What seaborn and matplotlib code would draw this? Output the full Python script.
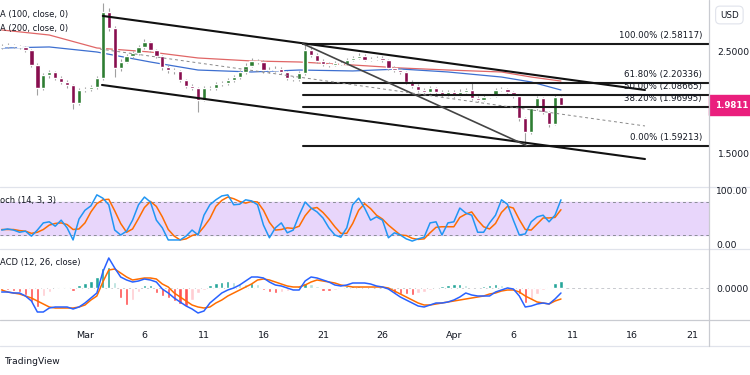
import matplotlib
matplotlib.use("Agg")
import matplotlib.pyplot as plt
from matplotlib.lines import Line2D
from matplotlib.patches import Rectangle
import seaborn as sns
import numpy as np

# candle times, days from Mar 1 (12h candles)
days = np.arange(-7, 40.01, 0.5)
first_open = 2.55

closes = [2.558, 2.568, 2.558, 2.549, 2.519, 2.374, 2.150, 2.277, 2.306, 2.248,
          2.209, 2.180, 2.005, 2.131, 2.141, 2.160, 2.248, 2.888, 2.733, 2.345,
          2.403, 2.461, 2.490, 2.549, 2.597, 2.519, 2.461, 2.354, 2.325, 2.316,
          2.228, 2.170, 2.150, 2.034, 2.150, 2.150, 2.189, 2.199, 2.228, 2.257,
          2.306, 2.364, 2.413, 2.403, 2.325, 2.325, 2.335, 2.306, 2.248, 2.238,
          2.296, 2.519, 2.471, 2.413, 2.383, 2.374, 2.393, 2.383, 2.422, 2.442,
          2.461, 2.422, 2.432, 2.442, 2.422, 2.345, 2.325, 2.306, 2.209, 2.170,
          2.131, 2.112, 2.150, 2.112, 2.083, 2.112, 2.073, 2.112, 2.131, 2.053,
          2.034, 2.063, 2.073, 2.131, 2.141, 2.112, 2.073, 1.859, 1.723, 1.956,
          2.053, 1.917, 1.801, 2.060, 1.981]
highs = [2.58, 2.59, 2.58, 2.57, 2.56, 2.53, 2.39, 2.30, 2.33, 2.32,
         2.27, 2.23, 2.19, 2.15, 2.16, 2.18, 2.27, 2.98, 2.93, 2.75,
         2.43, 2.48, 2.51, 2.57, 2.63, 2.61, 2.53, 2.47, 2.37, 2.34,
         2.33, 2.24, 2.19, 2.16, 2.17, 2.17, 2.21, 2.22, 2.25, 2.28,
         2.33, 2.39, 2.44, 2.43, 2.42, 2.35, 2.36, 2.35, 2.32, 2.27,
         2.32, 2.581, 2.56, 2.49, 2.43, 2.40, 2.41, 2.41, 2.44, 2.46,
         2.49, 2.48, 2.45, 2.46, 2.46, 2.43, 2.36, 2.34, 2.32, 2.23,
         2.19, 2.15, 2.17, 2.16, 2.13, 2.13, 2.13, 2.14, 2.15, 2.21,
         2.07, 2.08, 2.09, 2.15, 2.16, 2.15, 2.12, 2.08, 1.87, 1.98,
         2.07, 2.06, 1.93, 2.09, 2.07]
lows = [2.53, 2.54, 2.54, 2.53, 2.50, 2.35, 2.08, 2.13, 2.25, 2.23,
        2.19, 2.15, 1.95, 1.99, 2.11, 2.12, 2.14, 2.23, 2.70, 2.26,
        2.32, 2.39, 2.44, 2.47, 2.53, 2.50, 2.44, 2.33, 2.30, 2.29,
        2.21, 2.15, 2.13, 1.92, 2.02, 2.13, 2.13, 2.17, 2.18, 2.21,
        2.24, 2.29, 2.35, 2.38, 2.30, 2.30, 2.31, 2.29, 2.23, 2.22,
        2.22, 2.28, 2.45, 2.39, 2.36, 2.35, 2.36, 2.37, 2.37, 2.41,
        2.43, 2.41, 2.41, 2.42, 2.40, 2.33, 2.31, 2.29, 2.19, 2.15,
        2.11, 2.09, 2.10, 2.09, 2.06, 2.07, 2.05, 2.06, 2.10, 2.03,
        2.01, 2.02, 2.05, 2.06, 2.12, 2.09, 2.05, 1.83, 1.592, 1.70,
        1.94, 1.90, 1.77, 1.79, 1.97]

# moving averages, sampled along the chart
ma_days = [-7, -3, 1, 5.5, 9.5, 14, 18, 22.5, 26.5, 30.5, 35, 37.5, 40]
ma100 = [2.539, 2.549, 2.500, 2.403, 2.325, 2.306, 2.325, 2.316, 2.335, 2.306, 2.257, 2.209, 2.131]
ma200 = [2.714, 2.665, 2.539, 2.500, 2.442, 2.413, 2.403, 2.374, 2.345, 2.325, 2.306, 2.257, 2.218]

stoch_k = [29, 31, 29, 25, 27, 18, 29, 42, 44, 36,
           47, 33, 11, 49, 65, 73, 93, 87, 75, 29,
           20, 27, 47, 75, 89, 80, 47, 33, 11, 11,
           11, 18, 29, 20, 56, 75, 84, 91, 93, 75,
           76, 84, 82, 75, 38, 15, 33, 42, 24, 29,
           56, 80, 69, 62, 51, 33, 20, 16, 33, 75,
           87, 69, 47, 53, 47, 15, 24, 20, 13, 9,
           13, 16, 42, 44, 20, 42, 44, 69, 60, 56,
           25, 25, 42, 56, 84, 76, 47, 20, 22, 44,
           53, 56, 44, 56, 84]
stoch_d = [30, 30, 30, 28, 27, 23, 25, 30, 38, 41,
           42, 39, 30, 31, 42, 62, 77, 84, 85, 64,
           41, 25, 31, 50, 70, 81, 72, 53, 30, 18,
           11, 13, 19, 22, 35, 50, 72, 83, 89, 86,
           81, 78, 81, 80, 65, 43, 29, 30, 33, 32,
           36, 55, 68, 70, 61, 49, 35, 23, 23, 41,
           65, 77, 68, 56, 49, 38, 29, 20, 19, 14,
           12, 13, 24, 34, 35, 35, 35, 52, 58, 62,
           47, 35, 31, 41, 61, 72, 69, 48, 30, 29,
           40, 51, 51, 52, 66]

macd_line = [-0.016, -0.016, -0.020, -0.020, -0.032, -0.052, -0.096, -0.096, -0.080, -0.076,
             -0.076, -0.076, -0.084, -0.076, -0.060, -0.040, -0.020, 0.064, 0.120, 0.080,
             0.044, 0.032, 0.024, 0.028, 0.036, 0.032, 0.024, -0.004, -0.020, -0.040,
             -0.056, -0.072, -0.084, -0.100, -0.092, -0.060, -0.040, -0.020, -0.008, 0.000,
             0.012, 0.028, 0.044, 0.044, 0.040, 0.024, 0.012, 0.008, 0.000, -0.008,
             -0.008, 0.028, 0.044, 0.040, 0.032, 0.024, 0.012, 0.008, 0.012, 0.020,
             0.020, 0.020, 0.016, 0.008, 0.004, -0.004, -0.020, -0.036, -0.048, -0.060,
             -0.072, -0.076, -0.068, -0.060, -0.060, -0.056, -0.048, -0.036, -0.020, -0.028,
             -0.032, -0.032, -0.032, -0.016, -0.008, 0.000, -0.004, -0.032, -0.076, -0.072,
             -0.064, -0.060, -0.064, -0.044, -0.020]
macd_signal = [-0.008, -0.016, -0.020, -0.024, -0.032, -0.040, -0.052, -0.064, -0.076, -0.080,
               -0.080, -0.080, -0.080, -0.076, -0.068, -0.048, -0.032, 0.024, 0.072, 0.076,
               0.060, 0.044, 0.032, 0.036, 0.040, 0.040, 0.036, 0.016, 0.004, -0.020,
               -0.036, -0.052, -0.068, -0.076, -0.080, -0.076, -0.060, -0.048, -0.032, -0.020,
               -0.008, 0.004, 0.016, 0.032, 0.036, 0.032, 0.024, 0.016, 0.008, 0.004,
               0.004, 0.012, 0.024, 0.032, 0.028, 0.024, 0.020, 0.012, 0.008, 0.004,
               0.004, 0.004, 0.004, 0.004, 0.004, 0.000, -0.012, -0.024, -0.036, -0.048,
               -0.060, -0.068, -0.068, -0.064, -0.060, -0.056, -0.052, -0.048, -0.044, -0.040,
               -0.036, -0.032, -0.024, -0.020, -0.012, -0.008, -0.008, -0.016, -0.032, -0.044,
               -0.056, -0.060, -0.064, -0.052, -0.044]
macd_hist = [-0.008, -0.008, -0.012, -0.016, -0.028, -0.056, -0.076, -0.032, -0.016, 0.004,
             0.004, 0.004, -0.012, 0.012, 0.020, 0.028, 0.044, 0.080, 0.084, 0.024,
             -0.040, -0.068, -0.048, -0.016, 0.012, 0.012, -0.020, -0.032, -0.040, -0.052,
             -0.064, -0.072, -0.048, -0.020, -0.008, 0.012, 0.020, 0.024, 0.028, 0.024,
             0.020, 0.016, 0.020, 0.016, -0.008, -0.016, -0.020, -0.016, -0.012, -0.008,
             0.008, 0.020, 0.016, 0.008, -0.012, -0.012, -0.008, -0.004, 0.008, 0.008,
             0.008, 0.004, 0.004, 0.000, 0.000, -0.008, -0.020, -0.024, -0.024, -0.028,
             -0.020, -0.016, -0.008, 0.004, 0.008, 0.012, 0.016, 0.016, 0.012, -0.004,
             0.004, 0.008, 0.012, 0.016, 0.012, 0.008, -0.004, -0.024, -0.060, -0.048,
             -0.024, -0.008, 0.004, 0.020, 0.028]

fib_levels = [2.58117, 2.20336, 2.08665, 1.96995, 1.59213]
fib_names = ["100.00%", "61.80%", "50.00%", "38.20%", "0.00%"]
fib_start = 18.3

# drawn trend lines: (days, prices)
channel_upper = ([1.5, 47.06], [2.850, 2.131])
channel_lower = ([1.43, 47.06], [2.180, 1.461])
channel_mid = ([1.26, 47.06], [2.529, 1.782])
swing_line = ([18.3, 37.1], [2.581, 1.592])

tick_days = [0, 5, 10, 15, 20, 25, 31, 36, 41, 46, 51]
tick_labels = ["Mar", "6", "11", "16", "21", "26", "Apr", "6", "11", "16", "21"]
last_price = 1.9811

sns.set_theme(style="white")
plt.rcParams['font.family'] = ['DejaVu Sans']
TXT = '#131722'

W, H = 750, 375
fig = plt.figure(figsize=(7.5, 3.75), dpi=100)


def panel(top, bottom):
    ax = fig.add_axes([0, 1 - bottom / H, 709 / W, (bottom - top) / H])
    for s in ax.spines.values():
        s.set_visible(False)
    ax.set_xlim(-7.14, 52.44)
    ax.set_yticks([])
    ax.set_facecolor('white')
    return ax


ax1 = panel(0, 187)
ax2 = panel(187, 249)
ax3 = panel(249, 320)
ax1.set_ylim(1.1893, 3.0049)
ax2.set_ylim(-5.45, 107.3)
ax3.set_ylim(-0.128, 0.156)
ax1.set_xticks([])
ax2.set_xticks([])

# --- price panel ---
opens = np.array([first_open] + closes[:-1])
cl = np.array(closes)
body_colors = ['#2e7d32' if c >= o else '#880e4f' for o, c in zip(opens, cl)]
sns.lineplot(x=ma_days, y=ma200, ax=ax1, color='#e06666', lw=0.9)
sns.lineplot(x=ma_days, y=ma100, ax=ax1, color='#3d6fd0', lw=0.9)
ax1.vlines(days, lows, highs, color='#a0a0a0', lw=0.8, zorder=3)
ax1.bar(days, cl - opens, bottom=opens, width=0.36, color=body_colors, zorder=4)

for lvl, name in zip(fib_levels, fib_names):
    ax1.plot([fib_start, 52.44], [lvl, lvl], color='#1a1a1a', lw=1.5, zorder=5)
    ax1.annotate(f"{name} ({lvl:.5f})", xy=(51.85, lvl), xytext=(0, 2.5),
                 textcoords='offset points', ha='right', va='bottom',
                 fontsize=6.2, color=TXT, zorder=6)

ax1.plot(*channel_upper, color='#111111', lw=1.5, zorder=5)
ax1.plot(*channel_lower, color='#111111', lw=1.5, zorder=5)
ax1.plot(*swing_line, color='#444444', lw=1.2, zorder=5)
ax1.plot(*channel_mid, color='#888888', lw=0.7, ls=(0, (3, 3)), zorder=5)

ytr = ax1.get_yaxis_transform()
for v in [2.5, 1.5]:
    ax1.text(1.012, v, f"{v:.4f}", transform=ytr, fontsize=6.6, color=TXT,
             va='center', ha='left', clip_on=False)
ax1.add_patch(Rectangle((1.0, last_price - 0.097), 41 / 709, 0.194, transform=ytr,
                        color='#ea1f7d', clip_on=False, zorder=7))
ax1.text(1.009, last_price, f"{last_price:.4f}", transform=ytr, fontsize=6.2,
         color='white', fontweight='bold', va='center', ha='left', clip_on=False, zorder=8)

# --- stochastic panel ---
ax2.axhspan(20, 80, color='#e8d6fb', zorder=0)
for v in [80, 20]:
    ax2.axhline(v, color='#8a8d96', lw=0.7, ls=(0, (3, 3)), zorder=1)
sns.lineplot(x=days, y=stoch_d, ax=ax2, color='#ff6d00', lw=1.1)
sns.lineplot(x=days, y=stoch_k, ax=ax2, color='#2196f3', lw=1.1)

# --- MACD panel ---
hist_colors = []
prev = 0.0
for h in macd_hist:
    if h >= 0:
        hist_colors.append('#26a69a' if h >= prev else '#b2dfdb')
    else:
        hist_colors.append('#ff5252' if h <= prev else '#ffcdd2')
    prev = h
ax3.axhline(0, color='#c8cacf', lw=0.7, ls=(0, (3, 3)), zorder=0)
ax3.bar(days, macd_hist, width=0.28, color=hist_colors, zorder=1)
sns.lineplot(x=days, y=macd_signal, ax=ax3, color='#ff6d00', lw=1.1)
sns.lineplot(x=days, y=macd_line, ax=ax3, color='#2962ff', lw=1.1)
ax3.set_xticks(tick_days)
ax3.set_xticklabels(tick_labels)
ax3.tick_params(axis='x', length=0, pad=8, labelsize=6.8, colors=TXT)
for ax in (ax1, ax2, ax3):
    ax.set_xlabel('')
    ax.set_ylabel('')

# --- frame lines and labels ---
for y, c in [(187, '#e0e3eb'), (249, '#e0e3eb'), (320, '#c9cbd1'), (346, '#e0e3eb')]:
    fig.add_artist(Line2D([0, 1], [1 - y / H] * 2, color=c, lw=0.9))
fig.add_artist(Line2D([709 / W] * 2, [1 - 346 / H, 1], color='#c9cbd1', lw=0.9))

fig.text(0, 1 - 14 / H, "A (100, close, 0)", fontsize=6, color=TXT, va='center')
fig.text(0, 1 - 28 / H, "A (200, close, 0)", fontsize=6, color=TXT, va='center')
fig.text(0, 1 - 200 / H, "och (14, 3, 3)", fontsize=6, color=TXT, va='center')
fig.text(0, 1 - 262 / H, "ACD (12, 26, close)", fontsize=6, color=TXT, va='center')
fig.text(716 / W, 1 - 191 / H, "100.00", fontsize=6.6, color=TXT, va='center')
fig.text(716 / W, 1 - 246 / H, "0.00", fontsize=6.6, color=TXT, va='center')
fig.text(716 / W, 1 - 289 / H, "0.0000", fontsize=6.6, color=TXT, va='center')
fig.text(720 / W, 1 - 15 / H, "USD", fontsize=6.3, color=TXT, va='center',
         bbox=dict(boxstyle='round,pad=0.5', fc='white', ec='#e0e3eb', lw=0.8))
fig.text(5 / W, 1 - 362 / H, "TradingView", fontsize=6.6, color=TXT, va='center',
         fontweight='medium')

fig.savefig('out.png', dpi=100, facecolor='white')
